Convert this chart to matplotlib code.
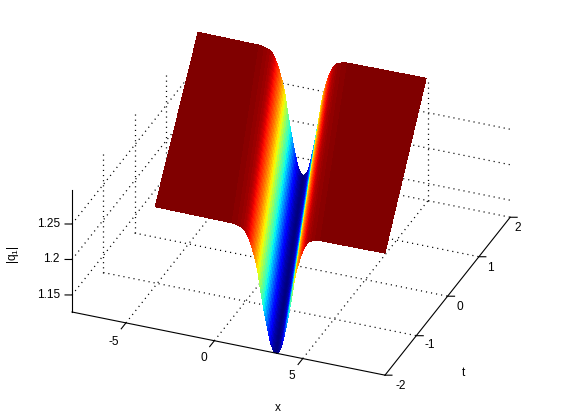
"""|q1| dip surface over x and t, drawn like a MATLAB surf with jet colours."""

import matplotlib

matplotlib.use("Agg")
import matplotlib.pyplot as plt  # noqa: E402
import numpy as np
from mpl_toolkits.mplot3d import proj3d

W, H = 561, 420

x_lim = (-8.05, 9.65)
t_lim = (-2.0, 2.0)
z_lim = (1.126, 1.298)

x_ticks = [-5, 0, 5]
t_ticks = [-2, -1, 0, 1, 2]
z_ticks = [1.15, 1.2, 1.25]
x_labels = ["-5", "0", "5"]
t_labels = ["-2", "-1", "0", "1", "2"]
z_labels = ["1.15", "1.2", "1.25"]

# first value is t=-2, second t=2
t_rows = [-2.0, 2.0]
left_edge = [-3.35, -8.0]
right_edge = [9.65, 4.9]
dip_centre = [3.5, -2.05]

# distance from the dip centre and height of the wall there
wall_offset = [0.05, 0.10, 0.15, 0.20, 0.25, 0.30, 0.35, 0.40, 0.45, 0.50,
               0.55, 0.60, 0.65, 0.70, 0.75, 0.80, 0.85, 0.90, 0.95, 1.00,
               1.05, 1.10, 1.15, 1.20, 1.25, 1.30, 1.35, 1.40, 1.45, 1.50,
               1.55, 1.60, 1.65, 1.70, 1.75, 1.80, 1.90, 2.00, 2.20, 2.50]
wall_z = [1.1265, 1.1275, 1.1290, 1.1312, 1.1340, 1.1375, 1.1420, 1.1475, 1.1530, 1.1590,
          1.1650, 1.1710, 1.1775, 1.1840, 1.1910, 1.1985, 1.2055, 1.2125, 1.2210, 1.2295,
          1.2369, 1.2430, 1.2481, 1.2533, 1.2576, 1.2619, 1.2662, 1.2705, 1.2739, 1.2774,
          1.2799, 1.2825, 1.2851, 1.2877, 1.2894, 1.2911, 1.2928, 1.2942, 1.2958, 1.2971]
bottom_z = 1.126
plateau_z = 1.298

offsets = np.array(wall_offset)
heights = np.array(wall_z)
profile_off = np.concatenate([-offsets[::-1], [0.0], offsets])
profile_z = np.concatenate([[plateau_z], heights[::-1], [bottom_z], heights, [plateau_z]])

X = np.array(
    [np.concatenate([[left_edge[i]], dip_centre[i] + profile_off, [right_edge[i]]]) for i in range(2)]
)
T = np.array([[t_rows[i]] * X.shape[1] for i in range(2)])
Z = np.array([profile_z, profile_z])

fig = plt.figure(figsize=(W / 100, H / 100), dpi=100)
plt.rcParams["font.family"] = ["Liberation Sans", "DejaVu Sans"]
ax = fig.add_axes([0, 0, 1, 1], projection="3d", proj_type="ortho")
ax.computed_zorder = False
ax.set_axis_off()
ax.patch.set_visible(False)
ax.view_init(elev=30.3, azim=-68.2)
box = (337.0, 337.0, 141.3)
ax.set_box_aspect(box)

# the axes get shifted below, so nothing may be clipped at their old edge
grid_style = dict(color="black", lw=0.9, ls=(0, (0.9, 3.2)), zorder=1, clip_on=False)
axis_style = dict(color="black", lw=0.8, zorder=3, clip_on=False)

for x in x_ticks:
    ax.plot([x, x], t_lim, [z_lim[0]] * 2, **grid_style)
    ax.plot([x, x], [t_lim[1]] * 2, z_lim, **grid_style)
for t in t_ticks[1:]:
    ax.plot(x_lim, [t, t], [z_lim[0]] * 2, **grid_style)
    ax.plot([x_lim[0]] * 2, [t, t], z_lim, **grid_style)
for z in z_ticks:
    ax.plot([x_lim[0]] * 2, t_lim, [z, z], **grid_style)
    ax.plot(x_lim, [t_lim[1]] * 2, [z, z], **grid_style)

ax.plot_surface(
    X, T, Z,
    rstride=1, cstride=1,
    cmap="jet",
    vmin=z_lim[0], vmax=plateau_z,
    linewidth=0, antialiased=False, shade=False, zorder=2,
)

ax.plot(x_lim, [t_lim[0]] * 2, [z_lim[0]] * 2, **axis_style)
ax.plot([x_lim[1]] * 2, t_lim, [z_lim[0]] * 2, **axis_style)
ax.plot([x_lim[0]] * 2, [t_lim[0]] * 2, z_lim, **axis_style)
for x in x_ticks:
    ax.plot([x, x - 0.0], [t_lim[0], t_lim[0] - 0.15], [z_lim[0]] * 2, **axis_style)
for t in t_ticks:
    ax.plot([x_lim[1], x_lim[1] + 0.34], [t, t + 0.03], [z_lim[0]] * 2, **axis_style)
for z in z_ticks:
    ax.plot([x_lim[0], x_lim[0] - 0.34], [t_lim[0], t_lim[0] - 0.03], [z, z], **axis_style)

ax.set_xlim(*x_lim, view_margin=0)
ax.set_ylim(*t_lim, view_margin=0)
ax.set_zlim(*z_lim, view_margin=0)


def to_px(x, t, z):
    tx, ty, _ = proj3d.proj_transform(x, t, z, ax.get_proj())
    return ax.transData.transform((tx, ty))


# fit the box to the pixel corners of the reference axes
fig.canvas.draw()
a = to_px(x_lim[0], t_lim[0], z_lim[0])
b = to_px(x_lim[1], t_lim[0], z_lim[0])
ax.set_box_aspect(box, zoom=313.0 / (b[0] - a[0]))
fig.canvas.draw()
a = to_px(x_lim[0], t_lim[0], z_lim[0])
ax.set_position([(72 - a[0]) / W, ((H - 312) - a[1]) / H, 1, 1])


def label(px, py, s, **kw):
    fig.text(px / W, 1 - py / H, s, fontsize=8.6, ha="center", va="center", **kw)


for px, py, s in zip([114, 204, 292], [342, 358, 376], x_labels):
    label(px, py, s)
for px, py, s in zip([401, 430, 460, 490, 518], [386, 345, 307, 268, 228], t_labels):
    label(px, py, s)
for py, s in zip([295, 259, 224], z_labels):
    fig.text(60 / W, 1 - py / H, s, fontsize=8.6, ha="right", va="center")
label(278, 408, "x")
label(464, 373, "t")
label(13, 255, r"$\mathdefault{|q_1|}$", rotation=90)

fig.savefig("out.png", dpi=100)
